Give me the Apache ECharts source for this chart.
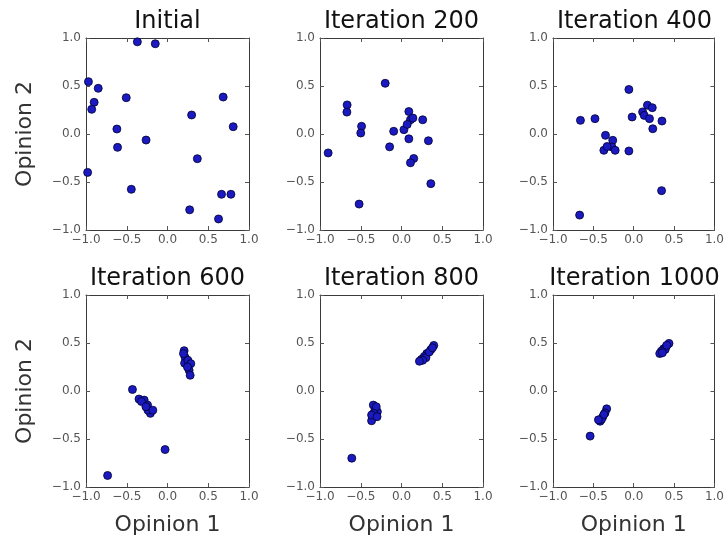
<!DOCTYPE html>
<html><head><meta charset="utf-8">
<script src="https://cdn.jsdelivr.net/npm/echarts@6/dist/echarts.min.js"></script>
<style>html,body{margin:0;padding:0;background:#fff}#c{width:727px;height:540px}</style>
</head><body><div id="c"></div>
<script>
const panelTitles = ['Initial', 'Iteration 200', 'Iteration 400', 'Iteration 600', 'Iteration 800', 'Iteration 1000'];
const tickValues = [-1, -0.5, 0, 0.5, 1];
const xAxisTitle = 'Opinion 1';
const yAxisTitle = 'Opinion 2';

const initialPts = [[-0.37,0.96],[-0.15,0.94],[-0.97,0.545],[-0.85,0.476],[-0.90,0.33],[-0.93,0.257],[-0.506,0.378],[0.683,0.385],[0.296,0.198],[0.806,0.076],[-0.621,0.052],[-0.613,-0.139],[-0.263,-0.063],[0.366,-0.257],[-0.98,-0.40],[-0.444,-0.576],[0.663,-0.628],[0.778,-0.628],[0.272,-0.79],[0.626,-0.885]];
const iter200Pts = [[-0.2,0.528],[-0.667,0.303],[-0.67,0.228],[-0.49,0.08],[-0.5,0.01],[-0.9,-0.197],[-0.52,-0.73],[-0.096,0.028],[-0.146,-0.134],[0.03,0.045],[0.09,0.234],[0.11,0.148],[0.14,0.166],[0.07,0.10],[0.09,-0.05],[0.26,0.148],[0.33,-0.07],[0.15,-0.255],[0.11,-0.30],[0.36,-0.517]];
const iter400Pts = [[-0.06,0.464],[-0.66,0.142],[-0.48,0.16],[-0.02,0.177],[-0.35,-0.014],[-0.26,-0.066],[-0.37,-0.17],[-0.27,-0.135],[-0.23,-0.17],[-0.06,-0.177],[0.11,0.23],[0.17,0.30],[0.23,0.274],[0.13,0.194],[0.195,0.16],[0.236,0.055],[0.35,0.135],[0.345,-0.59],[-0.67,-0.845],[-0.33,-0.13]];
const iter600Pts = [[-0.735,-0.88],[-0.43,0.016],[-0.35,-0.084],[-0.286,-0.095],[-0.245,-0.147],[-0.21,-0.233],[-0.24,-0.2],[-0.18,-0.2],[-0.03,-0.61],[0.204,0.42],[0.216,0.35],[0.21,0.29],[0.25,0.32],[0.286,0.285],[0.265,0.216],[0.278,0.164],[0.245,0.25],[0.196,0.39],[-0.32,-0.11],[-0.265,-0.164]];
const iter800Pts = [[-0.61,-0.70],[-0.346,-0.147],[-0.325,-0.2],[-0.354,-0.268],[-0.367,-0.31],[-0.296,-0.216],[-0.31,-0.164],[-0.34,-0.233],[-0.367,-0.25],[0.396,0.475],[0.36,0.43],[0.31,0.39],[0.28,0.36],[0.246,0.33],[0.30,0.347],[0.34,0.406],[0.26,0.32],[-0.30,-0.268],[0.38,0.45],[0.22,0.31]];
const iter1000Pts = [[-0.54,-0.47],[-0.335,-0.186],[-0.355,-0.228],[-0.384,-0.27],[-0.417,-0.315],[-0.40,-0.297],[-0.37,-0.245],[0.437,0.496],[0.405,0.468],[0.37,0.44],[0.343,0.416],[0.322,0.39],[0.39,0.433],[0.355,0.398],[0.41,0.476],[-0.437,-0.30]];

const panelData = [initialPts, iter200Pts, iter400Pts, iter600Pts, iter800Pts, iter1000Pts];

const FONT = 'DejaVu Sans';
const colLeft = [86, 320, 553];
const rowTop = [38, 295];
const W = 163, H = 192;
const fmt = v => (Math.abs(v) < 1e-9 ? 0 : v).toFixed(1).replace('-', '\u2212');

const grids = [], xAxes = [], yAxes = [], series = [], graphics = [];
panelData.forEach((pts, i) => {
  const r = Math.floor(i / 3), c = i % 3;
  grids.push({left: colLeft[c], top: rowTop[r], width: W, height: H, show: false});
  const base = {
    gridIndex: i, type: 'value', min: -1, max: 1, interval: 0.5,
    axisLine: {show: true, onZero: false, lineStyle: {color: '#3a3a3a', width: 1}},
    axisTick: {show: true, inside: true, length: 4, lineStyle: {color: '#555'}},
    splitLine: {show: false}
  };
  xAxes.push(Object.assign({}, base, {
    position: 'bottom',
    axisLabel: {show: true, margin: 4, formatter: fmt, color: '#555', fontFamily: FONT, fontSize: 12, showMinLabel: true, showMaxLabel: true, hideOverlap: false},
    name: r === 1 ? xAxisTitle : '', nameLocation: 'middle', nameGap: 27,
    nameTextStyle: {fontFamily: FONT, fontSize: 22, color: '#333'}
  }));
  xAxes.push(Object.assign({}, base, {position: 'top', axisLabel: {show: false}}));
  yAxes.push(Object.assign({}, base, {
    position: 'left',
    axisLabel: {show: true, margin: 5, formatter: fmt, color: '#555', fontFamily: FONT, fontSize: 12, showMinLabel: true, showMaxLabel: true, hideOverlap: false},
    name: c === 0 ? yAxisTitle : '', nameLocation: 'middle', nameGap: 50,
    nameTextStyle: {fontFamily: FONT, fontSize: 22, color: '#333'}
  }));
  yAxes.push(Object.assign({}, base, {position: 'right', axisLabel: {show: false}}));
  series.push({
    type: 'scatter', xAxisIndex: i * 2, yAxisIndex: i * 2, data: pts,
    symbolSize: 8, clip: false,
    itemStyle: {color: '#1a1ac0', borderColor: '#000030', borderWidth: 0.8, opacity: 1}
  });
  graphics.push({
    type: 'text', x: colLeft[c] + W / 2, y: rowTop[r] - 16,
    style: {text: panelTitles[i], fontFamily: FONT, fontSize: 24, fill: '#111', textAlign: 'center', textVerticalAlign: 'middle'}
  });
});

const chart = echarts.init(document.getElementById('c'), null, {renderer: 'canvas'});
chart.setOption({
  backgroundColor: '#ffffff',
  animation: false,
  grid: grids, xAxis: xAxes, yAxis: yAxes, series: series, graphic: graphics
});
</script></body></html>
